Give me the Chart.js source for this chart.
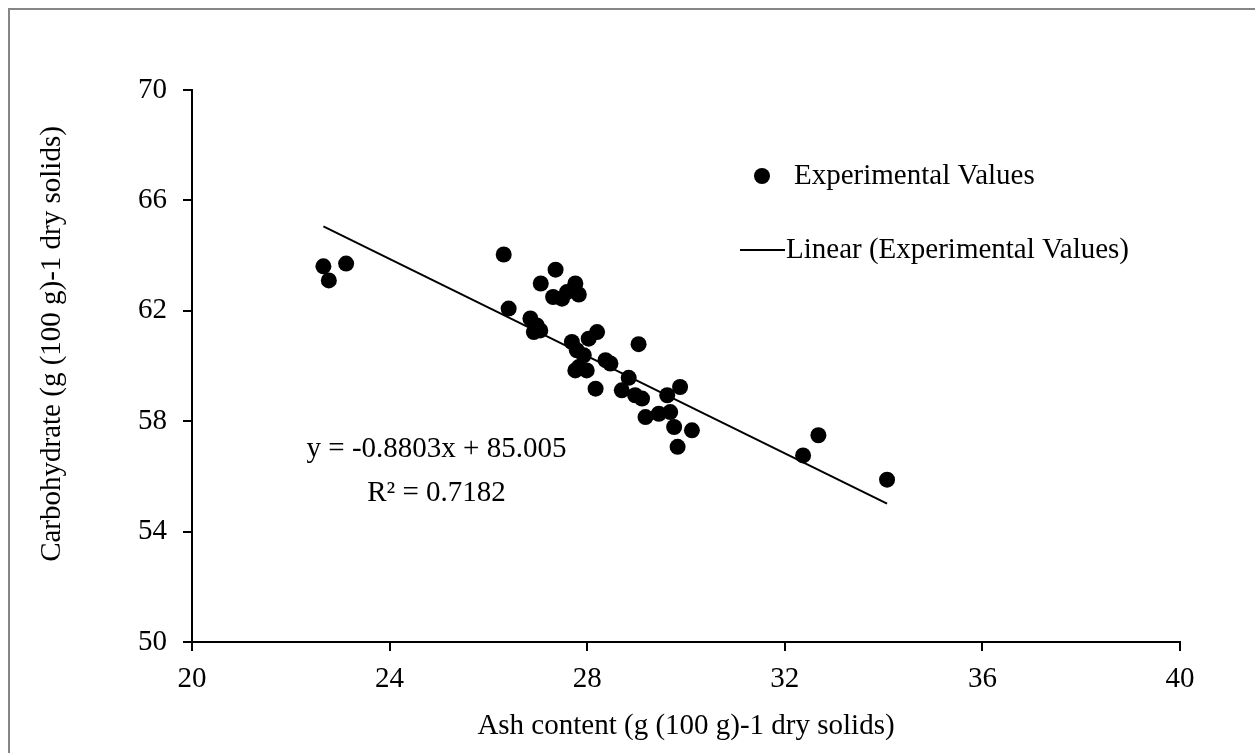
<!DOCTYPE html>
<html>
<head>
<meta charset="utf-8">
<script src="https://cdn.jsdelivr.net/npm/chart.js@4.4.0/dist/chart.umd.min.js"></script>
<style>
  body { margin: 0; background: #fff; }
  #wrap { width: 1255px; height: 753px; }
</style>
</head>
<body>
<div id="wrap"><canvas id="ashChart" width="1255" height="753"></canvas></div>
<script>
const ashContent = [22.66, 22.77, 23.12, 26.31, 26.41, 26.85, 26.98, 26.92, 27.05, 27.06,
  27.36, 27.31, 27.49, 27.59, 27.76, 27.83, 27.69, 27.79, 27.93, 28.20,
  28.03, 28.37, 28.47, 27.83, 27.99, 27.76, 29.04, 28.17, 28.84, 28.70,
  28.97, 29.11, 29.88, 29.62, 29.68, 29.45, 29.18, 29.76, 30.12, 29.83,
  32.68, 32.37, 34.07]
const carbohydrate = [63.61, 63.10, 63.71, 64.04, 62.08, 61.72, 61.47, 61.23, 61.29, 62.99,
  63.49, 62.50, 62.44, 62.68, 62.99, 62.59, 60.87, 60.57, 60.39, 61.23,
  60.99, 60.21, 60.09, 59.96, 59.84, 59.84, 60.79, 59.18, 59.57, 59.12,
  58.94, 58.82, 59.24, 58.94, 58.33, 58.27, 58.15, 57.79, 57.67, 57.07,
  57.49, 56.76, 55.88]

// trendline end points (y = -0.8803x + 85.005)
const trendX = [22.66, 34.07]
const trendY = [65.06, 55.01]

const xTicks = [20, 24, 28, 32, 36, 40]
const yTicks = [50, 54, 58, 62, 66, 70]

const equationText = 'y = -0.8803x + 85.005'
const rSquaredText = 'R² = 0.7182'

const serif = '"Liberation Serif", "Times New Roman", serif'
const fontSize = 29

const points = ashContent.map((x, i) => ({ x, y: carbohydrate[i] }))
const trend = trendX.map((x, i) => ({ x, y: trendY[i] }))

// frame, y title, equation and legend
const extras = {
    id: 'extras',
    beforeDraw(chart) {
        const { ctx } = chart
        ctx.save()
        ctx.fillStyle = '#fff'
        ctx.fillRect(0, 0, chart.width, chart.height)
        ctx.strokeStyle = '#868686'
        ctx.lineWidth = 2
        ctx.strokeRect(9, 9, chart.width, chart.height)
        ctx.restore()
    },
    afterDraw(chart) {
        const { ctx, scales } = chart
        ctx.save()
        ctx.fillStyle = '#000'
        ctx.font = fontSize + 'px ' + serif

        // y axis title
        ctx.save()
        ctx.translate(52, 344)
        ctx.rotate(-Math.PI / 2)
        ctx.textAlign = 'center'
        ctx.textBaseline = 'middle'
        ctx.fillText('Carbohydrate (g (100 g)-1 dry solids)', 0, 0)
        ctx.restore()

        // trendline label
        ctx.textAlign = 'center'
        ctx.textBaseline = 'middle'
        const ex = scales.x.getPixelForValue(24.95)
        ctx.fillText(equationText, ex, scales.y.getPixelForValue(56.98))
        ctx.fillText(rSquaredText, ex, scales.y.getPixelForValue(55.39))

        // legend
        const ds = chart.data.datasets
        ctx.textAlign = 'left'
        ctx.beginPath()
        ctx.arc(762, 176, 8, 0, Math.PI * 2)
        ctx.fill()
        ctx.fillText(ds[0].label, 794, 176)
        ctx.strokeStyle = '#000'
        ctx.lineWidth = 2
        ctx.beginPath()
        ctx.moveTo(740, 250)
        ctx.lineTo(785, 250)
        ctx.stroke()
        ctx.fillText(ds[1].label, 786, 250)
        ctx.restore()
    }
}

const axisBase = {
    type: 'linear',
    border: { display: true, color: '#000', width: 2 },
    grid: { drawOnChartArea: false, drawTicks: true, tickLength: 9, color: '#000', lineWidth: 2 },
}

new Chart('ashChart', {
    type: 'scatter',
    data: {
        datasets: [{
            label: 'Experimental Values',
            data: points,
            backgroundColor: '#000',
            borderColor: '#000',
            pointRadius: 8,
            pointHoverRadius: 8,
            borderWidth: 0
        }, {
            type: 'line',
            label: 'Linear (Experimental Values)',
            data: trend,
            borderColor: '#000',
            borderWidth: 2,
            pointRadius: 0,
            fill: false
        }]
    },
    options: {
        responsive: false,
        animation: false,
        events: [],
        layout: { padding: { left: 0, right: 75, top: 90, bottom: 0 } },
        plugins: { legend: { display: false }, tooltip: { enabled: false } },
        scales: {
            x: {
                ...axisBase,
                min: 20, max: 40,
                afterBuildTicks: s => { s.ticks = xTicks.map(v => ({ value: v })) },
                afterFit: s => { s.height = 111 },
                ticks: { color: '#000', padding: 11, font: { family: serif, size: fontSize } },
                title: {
                    display: true,
                    text: 'Ash content (g (100 g)-1 dry solids)',
                    color: '#000',
                    font: { family: serif, size: fontSize },
                    padding: { top: 0, bottom: 9 }
                }
            },
            y: {
                ...axisBase,
                min: 50, max: 70,
                afterBuildTicks: s => { s.ticks = yTicks.map(v => ({ value: v })) },
                afterFit: s => { s.width = 192 },
                ticks: { color: '#000', padding: 16, font: { family: serif, size: fontSize } }
            }
        }
    },
    plugins: [extras]
})
</script>
</body>
</html>
